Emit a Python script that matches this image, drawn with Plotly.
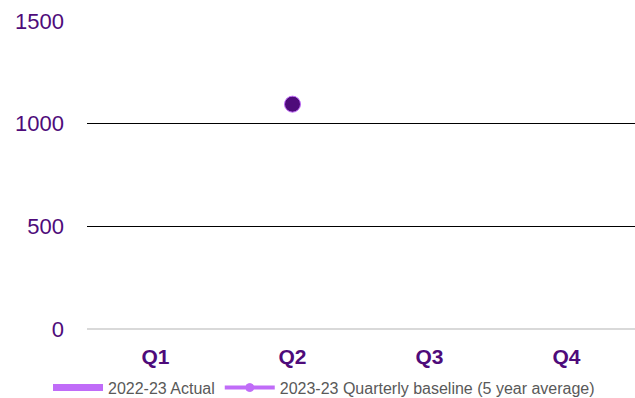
import plotly.graph_objects as go

quarters = ["Q1", "Q2", "Q3", "Q4"]
actual_2022_23 = [None, None, None, None]
baseline_5yr = [None, 1095, None, None]
y_ticks = [0, 500, 1000, 1500]

fig = go.Figure()
fig.add_trace(go.Scatter(
    x=quarters, y=actual_2022_23, name="2022-23 Actual",
    mode="lines", line=dict(color="#c06cf8", width=7),
))
fig.add_trace(go.Scatter(
    x=quarters, y=baseline_5yr, name="2023-23 Quarterly baseline (5 year average)",
    mode="lines+markers",
    line=dict(color="#c06cf8", width=4),
    marker=dict(size=[16, 16, 0, 0], opacity=1,
                color=["#c06cf8", "#4e0b7a", "#4e0b7a", "#4e0b7a"]),
))
fig.add_trace(go.Scatter(x=quarters, y=[None]*4, yaxis="y2", showlegend=False, hoverinfo="skip"))

fig.update_layout(
    width=635, height=398,
    margin=dict(l=87, r=0, t=21, b=69, autoexpand=False),
    paper_bgcolor="white", plot_bgcolor="white",
    font=dict(family="Liberation Sans, Arial, sans-serif"),
    xaxis=dict(
        range=[-0.5, 3.5],
        tickfont=dict(size=21, color="#4e0b7a", family="Liberation Sans, Arial"),
        showgrid=False, showline=False, ticks="",
        tickprefix="<b>", ticksuffix="</b>",
        ticklabelstandoff=13,
    ),
    yaxis=dict(
        range=[0, 1500], tickvals=y_ticks,
        tickfont=dict(size=22, color="#4e0b7a"),
        gridcolor="#ececec", gridwidth=1,
        zeroline=True, zerolinecolor="#d9d9d9", zerolinewidth=2,
        ticks="", ticklabelstandoff=22,
    ),
    yaxis2=dict(
        range=[0, 1500], tickvals=[500, 1000], overlaying="y",
        showticklabels=False, gridcolor="#000000", gridwidth=1, zeroline=False,
    ),
    legend=dict(
        orientation="h", xref="container", yref="container",
        x=0.0756, y=0.026, xanchor="left", yanchor="middle",
        font=dict(size=16, color="#595959"),
        itemwidth=50, tracegroupgap=0,
    ),
    showlegend=True,
)

fig.write_html("out.html")
